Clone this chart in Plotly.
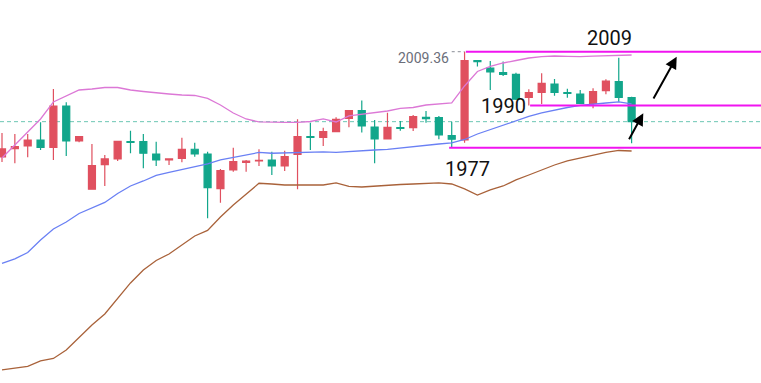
import plotly.graph_objects as go

# ---- data (price units) ----
idx = list(range(50))
opens = [1973.88, 1976.68, 1977.59, 1979.61, 1977.15, 1991.07, 1979.27, 1963.00, 1971.29, 1973.21,
         1979.04, 1979.04, 1974.89, 1972.87, 1973.44, 1976.48, 1974.89, 1963.20, 1969.50, 1972.09,
         1972.53, 1972.87, 1970.85, 1974.79, 1980.72, 1980.52, 1982.41, 1986.86, 1989.48, 1983.99,
         1979.95, 1983.82, 1983.76, 1987.26, 1987.13, 1981.06, 1979.61, 2006.33, 2003.87, 2002.36,
         2001.75, 1994.00, 1995.68, 1998.48, 1995.55, 1995.11, 1991.98, 1996.22, 1999.26, 1993.87]
highs = [1981.97, 1981.63, 1981.63, 1985.57, 1996.80, 1992.31, 1980.96, 1978.26, 1974.55, 1979.30,
         1982.74, 1981.63, 1979.04, 1973.30, 1980.39, 1978.70, 1975.67, 1969.84, 1977.02, 1972.87,
         1976.48, 1975.67, 1976.00, 1986.59, 1985.44, 1983.76, 1987.26, 1989.70, 1992.92, 1986.35,
         1988.81, 1986.01, 1988.03, 1989.38, 1987.70, 1985.78, 2009.36, 2006.40, 2006.23, 2006.06,
         2002.29, 1996.70, 2002.09, 2000.17, 1996.90, 1996.46, 1997.03, 2000.07, 2007.35, 1994.20]
lows = [1972.20, 1971.76, 1973.78, 1976.24, 1972.87, 1974.22, 1978.83, 1962.90, 1964.11, 1972.53,
        1975.13, 1970.07, 1970.85, 1971.18, 1972.09, 1973.98, 1953.22, 1958.48, 1968.93, 1968.93,
        1970.85, 1967.81, 1969.16, 1963.00, 1976.24, 1977.59, 1982.30, 1983.89, 1982.14, 1971.76,
        1979.78, 1982.74, 1982.64, 1985.44, 1979.85, 1977.02, 1978.70, 2004.38, 1996.46, 2001.18,
        1993.09, 1991.24, 1991.74, 1994.54, 1993.87, 1991.74, 1990.29, 1995.01, 1992.52, 1978.50]
closes = [1976.58, 1977.35, 1979.61, 1977.15, 1991.07, 1979.27, 1980.72, 1970.95, 1973.21, 1979.17,
          1978.83, 1975.13, 1972.87, 1973.21, 1976.48, 1974.89, 1963.54, 1969.26, 1972.30, 1972.53,
          1972.77, 1970.85, 1973.98, 1980.72, 1980.52, 1982.41, 1986.59, 1989.55, 1984.33, 1979.95,
          1983.89, 1983.55, 1987.46, 1986.79, 1981.29, 1979.85, 2006.33, 2006.00, 2002.53, 2001.75,
          1993.33, 1995.55, 1998.72, 1995.68, 1995.35, 1991.98, 1995.89, 1999.49, 1994.00, 1985.78]

bb_upper = [1973.54, 1977.92, 1982.64, 1986.69, 1992.42, 1994.44, 1996.46, 1996.80, 1997.30, 1997.30,
            1996.46, 1995.95, 1995.45, 1995.11, 1994.77, 1994.61, 1993.60, 1991.40, 1988.71, 1986.69,
            1985.68, 1985.51, 1985.51, 1985.51, 1985.84, 1986.69, 1985.68, 1987.70, 1988.20, 1988.71,
            1989.38, 1990.23, 1990.56, 1991.40, 1991.74, 1992.08, 1997.81, 2002.69, 2004.38, 2005.56,
            2006.40, 2007.24, 2007.68, 2007.92, 2007.82, 2007.68, 2007.85, 2008.02, 2008.19, 2008.25]
bb_mid = [1937.99, 1939.51, 1941.70, 1945.91, 1949.62, 1951.98, 1954.84, 1956.69, 1958.55, 1961.58,
          1964.11, 1965.79, 1967.65, 1968.66, 1969.67, 1970.68, 1971.52, 1972.87, 1973.78, 1974.55,
          1975.40, 1975.13, 1975.23, 1975.23, 1975.33, 1975.57, 1975.40, 1975.73, 1976.07, 1976.24,
          1976.41, 1976.91, 1977.25, 1977.76, 1978.26, 1978.60, 1979.78, 1981.63, 1983.15, 1984.50,
          1986.01, 1987.53, 1988.71, 1989.72, 1990.56, 1991.24, 1991.74, 1992.08, 1992.42, 1991.80]
bb_lower = [1902.10, 1902.61, 1903.28, 1905.13, 1905.98, 1908.84, 1913.22, 1917.26, 1920.97, 1926.03,
            1931.42, 1935.80, 1939.00, 1941.19, 1944.22, 1947.26, 1949.11, 1953.66, 1957.70, 1961.41,
            1965.02, 1964.78, 1964.44, 1964.44, 1964.44, 1964.44, 1965.12, 1963.94, 1963.77, 1964.11,
            1964.44, 1964.61, 1964.78, 1964.95, 1965.12, 1964.78, 1963.10, 1961.07, 1962.76, 1964.11,
            1966.13, 1967.81, 1969.50, 1971.18, 1972.53, 1973.54, 1974.55, 1975.40, 1976.07, 1975.90]

# horizontal levels: (label text, candle index where the level starts, price)
level_top = ("2009", 36, highs[36])
level_mid = ("1990", 41, lows[41])
level_bot = ("1977", 35, lows[35])
high_label = "2009.36"

RED = "#e0505f"
GREEN = "#12a68b"
MAGENTA = "#f014f0"

fig = go.Figure()

fig.add_trace(go.Scatter(x=idx, y=bb_lower, mode="lines",
                         line=dict(color="#a9623a", width=1.3), hoverinfo="skip"))
fig.add_trace(go.Scatter(x=idx, y=bb_mid, mode="lines",
                         line=dict(color="#6a80f4", width=1.3), hoverinfo="skip"))
fig.add_trace(go.Scatter(x=idx, y=bb_upper, mode="lines",
                         line=dict(color="#dc78d6", width=1.3), hoverinfo="skip"))

fig.add_trace(go.Candlestick(
    x=idx, open=opens, high=highs, low=lows, close=closes,
    increasing=dict(line=dict(color=RED, width=1.2), fillcolor=RED),
    decreasing=dict(line=dict(color=GREEN, width=1.2), fillcolor=GREEN),
    whiskerwidth=0,
))

x_end = 59.07
shapes = []
# last price dashed line
shapes.append(dict(type="line", xref="paper", x0=0, x1=1, yref="y",
                   y0=closes[-1], y1=closes[-1],
                   line=dict(color="#6cc6b4", width=1, dash="4px,3px"), layer="below"))
# magenta levels
for _, start, price in (level_top, level_mid, level_bot):
    shapes.append(dict(type="line", xref="x", yref="y",
                       x0=start + (-0.2 if start == 35 else 0.1),
                       x1=x_end, y0=price, y1=price,
                       line=dict(color=MAGENTA, width=2)))
# dotted leader for high label
shapes.append(dict(type="line", xref="x", yref="y", x0=35.0, x1=36.0,
                   y0=highs[36], y1=highs[36],
                   line=dict(color="#8a8d96", width=1, dash="dot")))

annotations = [
    dict(x=47.3, y=2014.0, text=level_top[0], showarrow=False,
         font=dict(size=20, color="#111111", family="Roboto, Arial, sans-serif"),
         xanchor="center", yanchor="middle"),
    dict(x=39.0, y=1991.07, text=level_mid[0], showarrow=False,
         font=dict(size=20, color="#111111", family="Roboto, Arial, sans-serif"),
         xanchor="center", yanchor="middle"),
    dict(x=36.2, y=1969.84, text=level_bot[0], showarrow=False,
         font=dict(size=20, color="#111111", family="Roboto, Arial, sans-serif"),
         xanchor="center", yanchor="middle"),
    dict(x=35.0, y=highs[36], text=high_label, showarrow=False,
         font=dict(size=14, color="#6b6e7a", family="Roboto, Arial, sans-serif"),
         xanchor="right", yanchor="middle", xshift=-1, yshift=-6),
    # arrows
    dict(x=49.91, y=1988.61, ax=48.74, ay=1979.37, axref="x", ayref="y",
         xref="x", yref="y", showarrow=True, arrowhead=2, arrowsize=1.2,
         arrowwidth=2, arrowcolor="#000000", text=""),
    dict(x=52.51, y=2007.68, ax=50.64, ay=1993.09, axref="x", ayref="y",
         xref="x", yref="y", showarrow=True, arrowhead=2, arrowsize=1.2,
         arrowwidth=2, arrowcolor="#000000", text=""),
]

fig.update_layout(
    width=761, height=383,
    margin=dict(l=0, r=0, t=0, b=0),
    paper_bgcolor="white", plot_bgcolor="white",
    showlegend=False,
    boxgap=0.22,
    shapes=shapes,
    annotations=annotations,
    xaxis=dict(range=[-0.1556, x_end], visible=False, showgrid=False,
               rangeslider=dict(visible=False), fixedrange=True),
    yaxis=dict(range=[1897.70, 2026.79], visible=False, showgrid=False, fixedrange=True),
)

fig.write_html("out.html", config={"displayModeBar": False},
               post_script="document.body.style.margin='0';document.body.style.padding='0';")
